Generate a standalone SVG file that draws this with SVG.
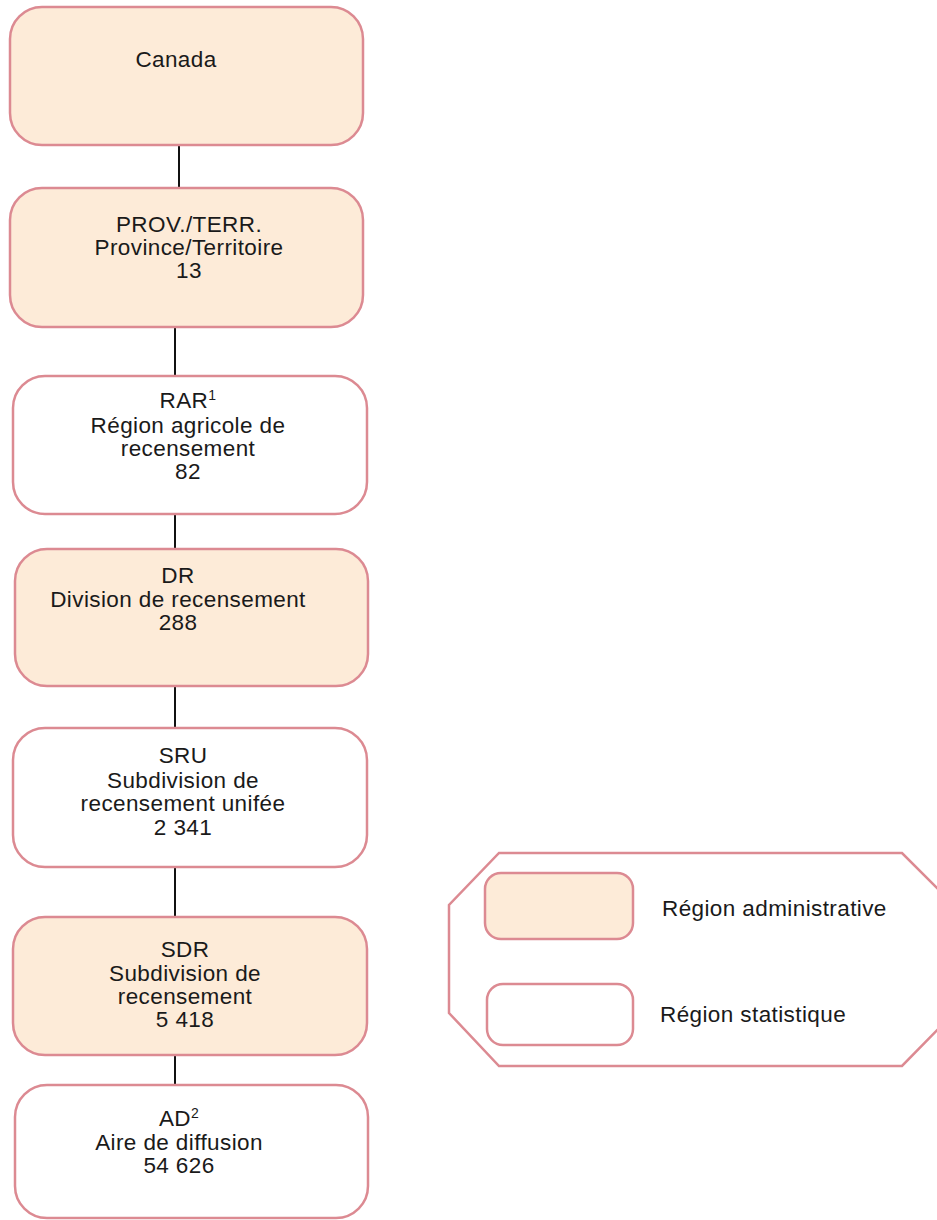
<svg xmlns="http://www.w3.org/2000/svg" width="937" height="1220" viewBox="0 0 937 1220">
<style>
.adm{fill:#fdebd8;stroke:#dc8a92;stroke-width:2.5}
.sta{fill:#ffffff;stroke:#dc8a92;stroke-width:2.5}
.lbl{font-family:"Liberation Sans",Arial,sans-serif;font-size:22.5px;fill:#1a1a1a;text-anchor:middle;letter-spacing:0.4px}
.leg{font-family:"Liberation Sans",Arial,sans-serif;font-size:22.5px;fill:#1a1a1a;letter-spacing:0.4px}
.sup{font-size:14px}
.con{stroke:#111;stroke-width:2;fill:none}
</style>
<rect width="937" height="1220" fill="#ffffff"/>
<g id="connectors">
<line class="con" x1="179" y1="145" x2="179" y2="188"/>
<line class="con" x1="175" y1="327" x2="175" y2="376"/>
<line class="con" x1="175" y1="514" x2="175" y2="549"/>
<line class="con" x1="175" y1="686" x2="175" y2="728"/>
<line class="con" x1="175" y1="867" x2="175" y2="917"/>
<line class="con" x1="175" y1="1055" x2="175" y2="1085"/>
</g>
<g id="canada">
<rect class="adm" x="10" y="7" width="353" height="138" rx="32"/>
<text class="lbl" x="176" y="67">Canada</text>
</g>
<g id="prov">
<rect class="adm" x="10" y="188" width="353" height="139" rx="32"/>
<text class="lbl" x="189" y="232">PROV./TERR.</text>
<text class="lbl" x="189" y="255">Province/Territoire</text>
<text class="lbl" x="189" y="278">13</text>
</g>
<g id="rar">
<rect class="sta" x="13" y="376" width="354" height="138" rx="32"/>
<text class="lbl" x="188" y="408">RAR<tspan class="sup" dy="-8">1</tspan></text>
<text class="lbl" x="188" y="433">Région agricole de</text>
<text class="lbl" x="188" y="456">recensement</text>
<text class="lbl" x="188" y="479">82</text>
</g>
<g id="dr">
<rect class="adm" x="15" y="549" width="353" height="137" rx="32"/>
<text class="lbl" x="178" y="583">DR</text>
<text class="lbl" x="178" y="607">Division de recensement</text>
<text class="lbl" x="178" y="630">288</text>
</g>
<g id="sru">
<rect class="sta" x="13" y="728" width="354" height="139" rx="32"/>
<text class="lbl" x="183" y="763">SRU</text>
<text class="lbl" x="183" y="788">Subdivision de</text>
<text class="lbl" x="183" y="811">recensement unifée</text>
<text class="lbl" x="183" y="835">2 341</text>
</g>
<g id="sdr">
<rect class="adm" x="13" y="917" width="354" height="138" rx="32"/>
<text class="lbl" x="185" y="957">SDR</text>
<text class="lbl" x="185" y="981">Subdivision de</text>
<text class="lbl" x="185" y="1004">recensement</text>
<text class="lbl" x="185" y="1027">5 418</text>
</g>
<g id="ad">
<rect class="sta" x="15" y="1085" width="353" height="133" rx="32"/>
<text class="lbl" x="179" y="1126">AD<tspan class="sup" dy="-8">2</tspan></text>
<text class="lbl" x="179" y="1150">Aire de diffusion</text>
<text class="lbl" x="179" y="1173">54 626</text>
</g>
<g id="legend">
<polygon points="499,853 902,853 954,905 954,1013 902,1066 499,1066 449,1013 449,905" fill="#ffffff" stroke="#dc8a92" stroke-width="2.5"/>
<rect class="adm" x="485" y="873" width="148" height="66" rx="16"/>
<text class="leg" x="662" y="916">Région administrative</text>
<rect class="sta" x="487" y="984" width="146" height="61" rx="16"/>
<text class="leg" x="660" y="1022">Région statistique</text>
</g>
</svg>
